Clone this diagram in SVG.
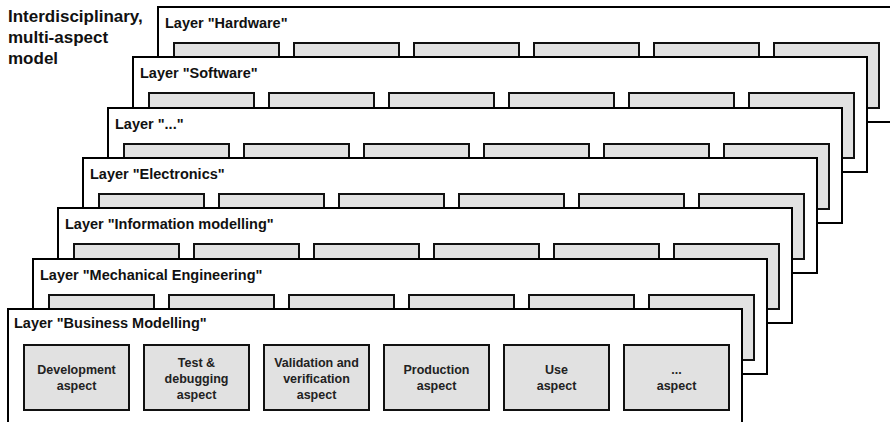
<svg xmlns="http://www.w3.org/2000/svg" xmlns:xlink="http://www.w3.org/1999/xlink" width="890" height="422" viewBox="0 0 890 422">
  <style>
    .frame { fill: #ffffff; stroke: #000000; stroke-width: 2; }
    .aspect { fill: #e1e1e1; stroke: #111111; stroke-width: 2; }
    .title { font-family: "Liberation Sans", Arial, sans-serif; font-weight: bold; font-size: 17px; fill: #111111; }
    .layer-label { font-family: "Liberation Sans", Arial, sans-serif; font-weight: bold; font-size: 14.5px; fill: #111111; }
    .aspect-label { font-family: "Liberation Sans", Arial, sans-serif; font-weight: bold; font-size: 12.5px; fill: #222222; text-anchor: middle; }
  </style>
  <defs>
    <!-- one layer: white frame with a row of six aspect boxes, origin at the frame's top-left -->
    <g id="layer-body">
      <rect class="frame" x="0" y="0" width="734" height="115"/>
      <rect class="aspect" x="16" y="36" width="105" height="65"/>
      <rect class="aspect" x="136" y="36" width="105" height="65"/>
      <rect class="aspect" x="256" y="36" width="105" height="65"/>
      <rect class="aspect" x="376" y="36" width="105" height="65"/>
      <rect class="aspect" x="496" y="36" width="105" height="65"/>
      <rect class="aspect" x="616" y="36" width="105" height="65"/>
    </g>
  </defs>

  <g id="title">
    <text class="title" x="8" y="22">Interdisciplinary,</text>
    <text class="title" x="8" y="43">multi-aspect</text>
    <text class="title" x="8" y="64">model</text>
  </g>

  <!-- layers stacked back to front, each shifted 25 right and ~50 up from the one in front -->
  <g id="layer-hardware" transform="translate(158,7)">
    <use xlink:href="#layer-body"/>
    <text class="layer-label" x="7" y="21">Layer "Hardware"</text>
  </g>

  <g id="layer-software" transform="translate(133,57)">
    <use xlink:href="#layer-body"/>
    <text class="layer-label" x="7" y="21">Layer "Software"</text>
  </g>

  <g id="layer-ellipsis" transform="translate(108,108)">
    <use xlink:href="#layer-body"/>
    <text class="layer-label" x="7" y="21">Layer "..."</text>
  </g>

  <g id="layer-electronics" transform="translate(83,158)">
    <use xlink:href="#layer-body"/>
    <text class="layer-label" x="7" y="21">Layer "Electronics"</text>
  </g>

  <g id="layer-information" transform="translate(58,208)">
    <use xlink:href="#layer-body"/>
    <text class="layer-label" x="7" y="21">Layer "Information modelling"</text>
  </g>

  <g id="layer-mechanical" transform="translate(33,259)">
    <use xlink:href="#layer-body"/>
    <text class="layer-label" x="7" y="21">Layer "Mechanical Engineering"</text>
  </g>

  <g id="layer-business" transform="translate(8,309)">
    <use xlink:href="#layer-body"/>
    <text class="layer-label" x="6" y="19">Layer "Business Modelling"</text>
    <g id="aspect-development">
      <text class="aspect-label" x="68.5" y="65">Development</text>
      <text class="aspect-label" x="68.5" y="81">aspect</text>
    </g>
    <g id="aspect-test">
      <text class="aspect-label" x="188.5" y="57.5">Test &amp;</text>
      <text class="aspect-label" x="188.5" y="73.5">debugging</text>
      <text class="aspect-label" x="188.5" y="89.5">aspect</text>
    </g>
    <g id="aspect-validation">
      <text class="aspect-label" x="308.5" y="57.5">Validation and</text>
      <text class="aspect-label" x="308.5" y="73.5">verification</text>
      <text class="aspect-label" x="308.5" y="89.5">aspect</text>
    </g>
    <g id="aspect-production">
      <text class="aspect-label" x="428.5" y="65">Production</text>
      <text class="aspect-label" x="428.5" y="81">aspect</text>
    </g>
    <g id="aspect-use">
      <text class="aspect-label" x="548.5" y="65">Use</text>
      <text class="aspect-label" x="548.5" y="81">aspect</text>
    </g>
    <g id="aspect-other">
      <text class="aspect-label" x="668.5" y="65">...</text>
      <text class="aspect-label" x="668.5" y="81">aspect</text>
    </g>
  </g>

  <!-- no connectors in this diagram -->
  <g id="connectors"/>
</svg>
